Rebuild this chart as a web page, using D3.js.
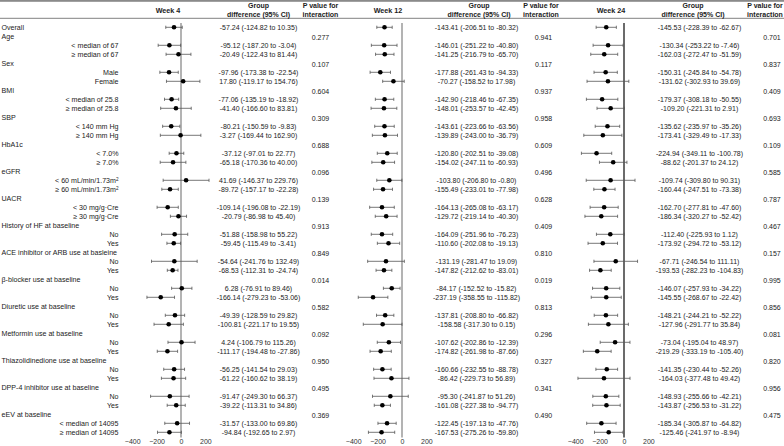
<!DOCTYPE html>
<html>
<head>
<meta charset="utf-8">
<script src="https://cdn.jsdelivr.net/npm/d3@7"></script>
<style>
body { margin: 0; background: #fff; }
text { font-family: "Liberation Sans", Arial, sans-serif; }
</style>
</head>
<body>
<svg id="forest"></svg>
<script>
var groups = ["Age", "Sex", "BMI", "SBP", "HbA1c", "eGFR", "UACR",
    "History of HF at baseline", "ACE inhibitor or ARB use at basleine",
    "\u03b2-blocker use at baseline", "Diuretic use at baseline",
    "Metformin use at baseline", "Thiazolidinedione use at baseline",
    "DPP-4 inhibitor use at baseline", "eEV at baseline"];
var subgroups = [
    ["< median of 67", "\u2265 median of 67"],
    ["Male", "Female"],
    ["< median of 25.8", "\u2265 median of 25.8"],
    ["< 140 mm Hg", "\u2265 140 mm Hg"],
    ["< 7.0%", "\u2265 7.0%"],
    ["< 60 mL/min/1.73m^2", "\u2265 60 mL/min/1.73m^2"],
    ["< 30 mg/g\u00b7Cre", "\u2265 30 mg/g\u00b7Cre"],
    ["No", "Yes"], ["No", "Yes"], ["No", "Yes"], ["No", "Yes"],
    ["No", "Yes"], ["No", "Yes"], ["No", "Yes"],
    ["< median of 14095", "\u2265 median of 14095"]];

// [estimate, lower, upper]: overall first, then the subgroups in order
var week4 = [
    [-57.24, -124.82, 10.35],
    [-95.12, -187.20, -3.04], [-20.49, -122.43, 81.44],
    [-97.96, -173.38, -22.54], [17.80, -119.17, 154.76],
    [-77.06, -135.19, -18.92], [-41.40, -166.60, 83.81],
    [-80.21, -150.59, -9.83], [-3.27, -169.44, 162.90],
    [-37.12, -97.01, 22.77], [-65.18, -170.36, 40.00],
    [41.69, -146.37, 229.76], [-89.72, -157.17, -22.28],
    [-109.14, -196.08, -22.19], [-20.79, -86.98, 45.40],
    [-51.88, -158.98, 55.22], [-59.45, -115.49, -3.41],
    [-54.64, -241.76, 132.49], [-68.53, -112.31, -24.74],
    [6.28, -76.91, 89.46], [-166.14, -279.23, -53.06],
    [-49.39, -128.59, 29.82], [-100.81, -221.17, 19.55],
    [4.24, -106.79, 115.26], [-111.17, -194.48, -27.86],
    [-56.25, -141.54, 29.03], [-61.22, -160.62, 38.19],
    [-91.47, -249.30, 66.37], [-39.22, -113.31, 34.86],
    [-31.57, -133.00, 69.86], [-94.84, -192.65, 2.97]];
var week12 = [
    [-143.41, -206.51, -80.32],
    [-146.01, -251.22, -40.80], [-141.25, -216.79, -65.70],
    [-177.88, -261.43, -94.33], [-70.27, -158.52, 17.98],
    [-142.90, -218.46, -67.35], [-148.01, -253.57, -42.45],
    [-143.61, -223.66, -63.56], [-139.89, -243.00, -36.79],
    [-120.80, -202.51, -39.08], [-154.02, -247.11, -60.93],
    [-103.80, -206.80, -0.80], [-155.49, -233.01, -77.98],
    [-164.13, -265.08, -63.17], [-129.72, -219.14, -40.30],
    [-164.09, -251.96, -76.23], [-110.60, -202.08, -19.13],
    [-131.19, -281.47, 19.09], [-147.82, -212.62, -83.01],
    [-84.17, -152.52, -15.82], [-237.19, -358.55, -115.82],
    [-137.81, -208.80, -66.82], [-158.58, -317.30, 0.15],
    [-107.62, -202.86, -12.39], [-174.82, -261.98, -87.66],
    [-160.66, -232.55, -88.78], [-86.42, -229.73, 56.89],
    [-95.30, -241.87, 51.26], [-161.08, -227.38, -94.77],
    [-122.45, -197.13, -47.76], [-167.53, -275.26, -59.80]];
var week24 = [
    [-145.53, -228.39, -62.67],
    [-130.34, -253.22, -7.46], [-162.03, -272.47, -51.59],
    [-150.31, -245.84, -54.78], [-131.62, -302.93, 39.69],
    [-179.37, -308.18, -50.55], [-109.20, -221.31, 2.91],
    [-135.62, -235.97, -35.26], [-173.41, -329.49, -17.33],
    [-224.94, -349.11, -100.78], [-88.62, -201.37, 24.12],
    [-109.74, -309.80, 90.31], [-160.44, -247.51, -73.38],
    [-162.70, -277.81, -47.60], [-186.34, -320.27, -52.42],
    [-112.40, -225.93, 1.12], [-173.92, -294.72, -53.12],
    [-67.71, -246.54, 111.11], [-193.53, -282.23, -104.83],
    [-146.07, -257.93, -34.22], [-145.55, -268.67, -22.42],
    [-148.21, -244.21, -52.22], [-127.96, -291.77, 35.84],
    [-73.04, -195.04, 48.97], [-219.29, -333.19, -105.40],
    [-141.35, -230.44, -52.26], [-164.03, -377.48, 49.42],
    [-148.93, -255.66, -42.21], [-143.87, -256.53, -31.22],
    [-185.34, -305.87, -64.82], [-125.46, -241.97, -8.94]];

var pWeek4 = ["0.277", "0.107", "0.604", "0.309", "0.688", "0.096", "0.139", "0.913",
    "0.849", "0.014", "0.582", "0.092", "0.950", "0.495", "0.369"];
var pWeek12 = ["0.941", "0.117", "0.937", "0.958", "0.609", "0.496", "0.628", "0.409",
    "0.810", "0.019", "0.813", "0.296", "0.327", "0.341", "0.490"];
var pWeek24 = ["0.701", "0.837", "0.409", "0.693", "0.109", "0.585", "0.787", "0.467",
    "0.157", "0.995", "0.856", "0.081", "0.820", "0.956", "0.475"];

var weekTitles = ["Week 4", "Week 12", "Week 24"];
var tickValues = [-400, -200, 0, 200];

var width = 784, height = 446;
var svg = d3.select("#forest")
    .attr("width", width)
    .attr("height", height);

// rows: overall, then header + two subgroup rows per group
var rows = [{label: "Overall", kind: "group", d: 0, p: -1}];
groups.forEach(function(g, i) {
    rows.push({label: g, kind: "group", d: -1, p: i});
    rows.push({label: subgroups[i][0], kind: "sub", d: 1 + 2 * i, p: -1});
    rows.push({label: subgroups[i][1], kind: "sub", d: 2 + 2 * i, p: -1});
});

var y = d3.scaleLinear()
    .domain([0, rows.length - 1])
    .range([27.3, 432.3]);

// frame lines
svg.append("rect")
    .attr("x", 0).attr("y", 0)
    .attr("width", width).attr("height", 1.8)
    .attr("fill", "#8a8a8a");
svg.append("line")
    .attr("x1", 0).attr("x2", width)
    .attr("y1", 18.4).attr("y2", 18.4)
    .attr("stroke", "#9a9a9a")
    .attr("stroke-width", 1.3);

// left labels
rows.forEach(function(r, i) {
    var t = svg.append("text")
        .attr("x", r.kind == "group" ? 1.5 : 118.5)
        .attr("y", y(i))
        .attr("dy", "0.35em")
        .attr("text-anchor", r.kind == "group" ? "start" : "end")
        .style("font-size", "7.1px")
        .attr("fill", "#222");
    if (r.label.indexOf("^") > -1) {
        var parts = r.label.split("^");
        t.append("tspan").text(parts[0]);
        t.append("tspan")
            .attr("dy", "-0.45em")
            .style("font-size", "4.6px")
            .text(parts[1]);
    } else {
        t.text(r.label);
    }
});

var panels = [
    {title: weekTitles[0], data: week4, p: pWeek4, zero: 181, titleX: 168, ciX: 258.5, ciHeadX: 258.5, pX: 320.5, pHeadX: 320.5, zeroColor: "#9a9a9a"},
    {title: weekTitles[1], data: week12, p: pWeek12, zero: 402, titleX: 388, ciX: 476.5, ciHeadX: 479, pX: 543.5, pHeadX: 541, zeroColor: "#9a9a9a"},
    {title: weekTitles[2], data: week24, p: pWeek24, zero: 624, titleX: 611, ciX: 699.5, ciHeadX: 693, pX: 772, pHeadX: 765, zeroColor: "#3a3a3a"}
];

var fmt = function(v) { return v.toFixed(2); };

panels.forEach(function(pn) {
    // about 12.2 px per 100 units
    var x = d3.scaleLinear()
        .domain([-400, 200])
        .range([pn.zero - 48.8, pn.zero + 24.4]);
    var g = svg.append("g");

    // headers
    g.append("text")
        .attr("x", pn.titleX).attr("y", 10)
        .attr("dy", "0.35em")
        .attr("text-anchor", "middle")
        .style("font-size", "7.2px")
        .style("font-weight", "bold")
        .attr("fill", "#222")
        .text(pn.title);
    [["Group", 5.7], ["difference (95% CI)", 14.8]].forEach(function(h) {
        g.append("text")
            .attr("x", pn.ciHeadX).attr("y", h[1])
            .attr("dy", "0.35em")
            .attr("text-anchor", "middle")
            .style("font-size", "7px")
            .style("font-weight", "bold")
            .attr("fill", "#222")
            .text(h[0]);
    });
    [["P value for", 5.9], ["interaction", 14.8]].forEach(function(h) {
        g.append("text")
            .attr("x", pn.pHeadX).attr("y", h[1])
            .attr("dy", "0.35em")
            .attr("text-anchor", "middle")
            .style("font-size", "7px")
            .style("font-weight", "bold")
            .attr("fill", "#222")
            .text(h[0]);
    });

    // zero reference line
    g.append("line")
        .attr("x1", x(0)).attr("x2", x(0))
        .attr("y1", 23).attr("y2", 437.5)
        .attr("stroke", pn.zeroColor)
        .attr("stroke-width", 1.5);

    // x axis ticks
    var axis = g.append("g")
        .attr("transform", "translate(0,436)")
        .call(d3.axisBottom(x).tickValues(tickValues).tickSize(0).tickPadding(3));
    axis.select(".domain").remove();
    axis.selectAll("text")
        .style("font-size", "7px")
        .style("font-family", "'Liberation Sans', Arial, sans-serif")
        .attr("fill", "#333");

    rows.forEach(function(r, i) {
        var yy = y(i);
        if (r.d > -1) {
            var d = pn.data[r.d];
            g.append("line")
                .attr("x1", x(d[1])).attr("x2", x(d[2]))
                .attr("y1", yy).attr("y2", yy)
                .attr("stroke", "#555")
                .attr("stroke-width", 0.8);
            [d[1], d[2]].forEach(function(v) {
                g.append("line")
                    .attr("x1", x(v)).attr("x2", x(v))
                    .attr("y1", yy - 1.6).attr("y2", yy + 1.6)
                    .attr("stroke", "#555")
                    .attr("stroke-width", 0.8);
            });
            g.append("circle")
                .attr("cx", x(d[0])).attr("cy", yy)
                .attr("r", 2.3)
                .attr("fill", "#000");
            g.append("text")
                .attr("x", pn.ciX).attr("y", yy)
                .attr("dy", "0.35em")
                .attr("text-anchor", "middle")
                .style("font-size", "7px")
                .attr("fill", "#222")
                .text(fmt(d[0]) + " (" + fmt(d[1]) + " to " + fmt(d[2]) + ")");
        }
        if (r.p > -1) {
            g.append("text")
                .attr("x", pn.pX).attr("y", yy + 1)
                .attr("dy", "0.35em")
                .attr("text-anchor", "middle")
                .style("font-size", "7px")
                .attr("fill", "#222")
                .text(pn.p[r.p]);
        }
    });
});
</script>
</body>
</html>
